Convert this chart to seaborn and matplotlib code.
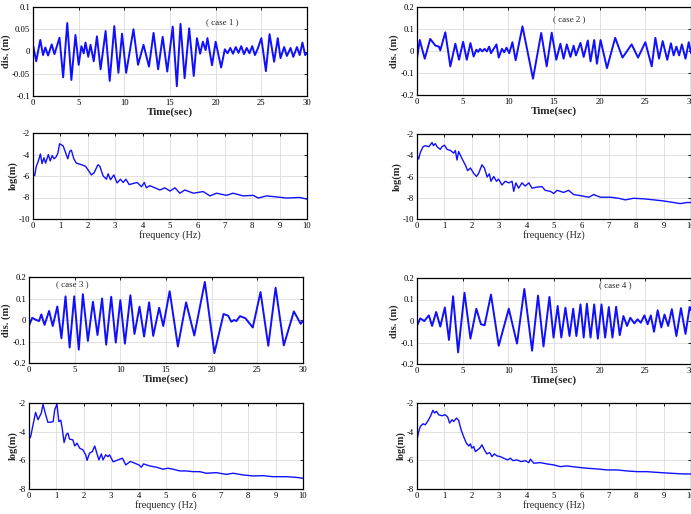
import matplotlib
matplotlib.use("Agg")
import matplotlib.pyplot as plt
import seaborn as sns
import numpy as np

# ---------------- data ----------------
# case 1 displacement: time (s), dis (m)
c1_t = [0.0, 0.35, 0.8, 1.1, 1.35, 1.65, 2.05, 2.35, 2.9, 3.3, 3.75, 4.2, 4.65, 5.0, 5.3, 5.55,
        5.75, 6.05, 6.3, 6.65, 7.0, 7.4, 7.95, 8.4, 8.9, 9.35, 9.75, 10.2, 11.0, 11.5, 12.1, 12.7,
        13.2, 13.7, 14.2, 14.7, 15.3, 15.75, 16.15, 16.6, 17.1, 17.6, 17.95, 18.3, 18.6, 18.9,
        19.1, 19.6, 20.0, 20.6, 21.0, 21.3, 21.6, 21.9, 22.2, 22.5, 22.8, 23.1, 23.4, 23.7, 24.0,
        24.3, 24.6, 25.0, 25.5, 25.9, 26.4, 26.8, 27.1, 27.5, 27.8, 28.2, 28.5, 28.9, 29.2, 29.5,
        29.8, 30.0]
c1_v = [0.015, -0.022, 0.026, -0.008, 0.009, -0.009, 0.016, -0.006, 0.031, -0.058, 0.064, -0.064,
        0.037, -0.030, 0.012, -0.004, 0.020, -0.012, 0.015, -0.022, 0.034, -0.040, 0.046, -0.066,
        0.057, -0.048, 0.040, -0.048, 0.050, -0.030, 0.015, -0.034, 0.042, -0.040, 0.033, -0.045,
        0.056, -0.078, 0.062, -0.060, 0.052, -0.055, 0.030, -0.005, 0.022, 0.003, 0.030, -0.031,
        0.022, -0.036, 0.005, -0.004, 0.008, -0.005, 0.010, -0.003, 0.012, -0.006, 0.008, -0.004,
        0.012, -0.008, 0.006, 0.030, -0.044, 0.039, -0.023, 0.030, -0.015, 0.010, -0.010, 0.008,
        -0.012, 0.010, -0.008, 0.020, -0.008, -0.003]

# case 2
c2_t = [0.0, 0.3, 0.85, 1.45, 2.0, 2.4, 2.55, 3.1, 3.65, 4.2, 4.6, 5.05, 5.45, 5.85, 6.2, 6.5,
        6.7, 6.9, 7.15, 7.4, 7.65, 7.9, 8.1, 8.7, 8.95, 9.3, 9.55, 9.8, 10.1, 10.45, 10.8, 11.55,
        12.7, 13.6, 14.2, 14.75, 15.25, 15.7, 16.05, 16.4, 16.8, 17.15, 17.4, 17.9, 18.25, 18.7,
        19.0, 19.4, 19.7, 20.1, 20.8, 21.7, 22.5, 23.5, 24.2, 25.0, 25.7, 26.1, 26.5, 26.9, 27.4,
        27.8, 28.1, 28.4, 28.7, 29.0, 29.4, 29.75, 30.0]
c2_v = [-0.035, 0.050, -0.035, 0.055, 0.025, 0.020, 0.003, 0.085, -0.070, 0.033, -0.040, 0.042,
        -0.040, 0.036, -0.025, 0.006, -0.004, 0.010, -0.002, 0.010, -0.002, 0.020, -0.010, 0.030,
        -0.030, 0.010, -0.006, 0.015, -0.010, 0.040, -0.042, 0.112, -0.126, 0.082, -0.070, 0.083,
        -0.040, 0.033, -0.035, 0.030, -0.027, 0.024, -0.020, 0.037, -0.027, 0.048, -0.047, 0.050,
        -0.058, 0.050, -0.078, 0.060, -0.030, 0.030, -0.030, 0.040, -0.070, 0.060, -0.035, 0.045,
        -0.040, 0.035, -0.020, 0.020, -0.020, 0.030, -0.035, 0.040, -0.010]

# case 3
c3_t = [0.0, 0.35, 0.8, 1.1, 1.35, 1.7, 2.2, 2.6, 3.1, 3.55, 4.0, 4.45, 4.95, 5.45, 5.9, 6.45,
        7.0, 7.5, 8.0, 8.45, 9.0, 9.5, 10.0, 10.5, 11.1, 11.55, 12.1, 12.6, 13.15, 13.6, 14.25,
        14.7, 15.4, 16.3, 17.2, 18.1, 19.25, 20.3, 21.3, 21.8, 22.15, 22.45, 22.7, 23.1, 23.7,
        24.5, 25.35, 26.2, 27.0, 27.9, 29.0, 29.75, 30.0]
c3_v = [-0.026, 0.010, 0.000, -0.005, 0.026, -0.023, 0.042, -0.028, 0.063, -0.085, 0.110, -0.128,
        0.110, -0.138, 0.120, -0.097, 0.085, -0.070, 0.100, -0.115, 0.108, -0.105, 0.092, -0.110,
        0.115, -0.065, 0.062, -0.077, 0.082, -0.074, 0.057, -0.028, 0.134, -0.123, 0.082, -0.072,
        0.177, -0.154, 0.028, 0.020, -0.008, 0.000, -0.005, 0.018, 0.008, -0.035, 0.130, -0.120,
        0.150, -0.118, 0.040, -0.018, -0.003]

# case 4
c4_t = [0.0, 0.35, 0.8, 1.3, 1.65, 2.1, 2.55, 3.05, 3.5, 3.95, 4.5, 5.2, 5.85, 6.5, 7.0, 7.4,
        8.1, 8.95, 10.05, 10.95, 11.75, 12.6, 13.25, 13.85, 14.5, 14.95, 15.4, 15.8, 16.25, 16.7,
        17.1, 17.45, 17.9, 18.25, 18.6, 19.0, 19.4, 19.8, 20.2, 20.6, 21.0, 21.4, 21.8, 22.2,
        22.6, 23.0, 23.35, 23.8, 24.15, 24.5, 24.9, 25.25, 25.6, 25.95, 26.35, 26.75, 27.1, 27.5,
        27.9, 28.4, 28.9, 29.4, 29.85, 30.0]
c4_v = [-0.023, 0.012, 0.000, 0.026, -0.023, 0.042, -0.026, 0.063, -0.088, 0.115, -0.146, 0.131,
        -0.082, 0.057, -0.015, -0.020, 0.123, -0.115, 0.057, -0.105, 0.149, -0.138, 0.118, -0.118,
        0.112, -0.077, 0.070, -0.077, 0.062, -0.070, 0.057, -0.070, 0.077, -0.077, 0.080, -0.077,
        0.077, -0.082, 0.077, -0.077, 0.065, -0.077, 0.066, -0.066, 0.023, -0.023, 0.015, -0.011,
        0.008, -0.008, 0.026, -0.015, 0.026, -0.050, 0.050, -0.030, 0.030, -0.023, 0.055, -0.070,
        0.060, -0.060, 0.065, 0.050]

# spectra: frequency (Hz), log(m)
s1_f = [0, 0.06, 0.12, 0.18, 0.27, 0.33, 0.4, 0.46, 0.56, 0.63, 0.7, 0.77, 0.85, 0.91, 0.97, 1.1,
        1.2, 1.27, 1.34, 1.4, 1.49, 1.58, 1.77, 1.92, 2.0, 2.13, 2.23, 2.37, 2.44, 2.56, 2.68, 2.74,
        2.83, 2.95, 3.07, 3.19, 3.29, 3.39, 3.51, 3.65, 3.8, 3.96, 4.06, 4.14, 4.26, 4.45, 4.63,
        4.81, 5.0, 5.18, 5.36, 5.54, 5.85, 6.21, 6.46, 6.7, 7.06, 7.3, 7.67, 8.04, 8.22, 8.53, 8.9,
        9.26, 9.74, 10.0]
s1_v = [-5.72, -5.97, -5.1, -4.73, -3.95, -4.85, -4.3, -4.8, -4.0, -4.6, -4.1, -4.4, -4.2, -3.85,
        -3.0, -3.2, -3.9, -4.4, -3.7, -3.6, -4.4, -4.8, -4.95, -5.1, -5.4, -5.9, -5.7, -4.95, -5.1,
        -6.0, -6.3, -5.8, -6.35, -5.9, -6.65, -6.3, -6.6, -6.3, -6.8, -6.7, -6.6, -7.0, -6.6, -7.1,
        -6.9, -7.1, -7.3, -7.1, -7.4, -7.1, -7.6, -7.3, -7.6, -7.45, -7.85, -7.6, -7.8, -7.6,
        -7.85, -7.8, -8.05, -7.85, -7.95, -8.05, -8.0, -8.15]

s2_f = [0, 0.06, 0.12, 0.22, 0.3, 0.43, 0.55, 0.6, 0.67, 0.73, 0.85, 0.91, 1.0, 1.1, 1.22, 1.34,
        1.4, 1.46, 1.52, 1.64, 1.76, 1.85, 1.95, 2.07, 2.17, 2.25, 2.37, 2.46, 2.56, 2.64, 2.7,
        2.8, 2.9, 2.98, 3.1, 3.22, 3.35, 3.47, 3.53, 3.61, 3.71, 3.83, 3.95, 4.08, 4.2, 4.38,
        4.56, 4.68, 4.87, 4.99, 5.11, 5.35, 5.53, 5.72, 5.96, 6.27, 6.45, 6.69, 7.06, 7.36, 7.6,
        7.9, 8.27, 8.64, 9.0, 9.37, 9.61, 9.85, 10.0]
s2_v = [-4.0, -4.35, -3.75, -3.2, -3.1, -3.2, -2.8, -3.1, -2.9, -3.2, -3.45, -3.2, -3.05, -3.45,
        -3.55, -3.8, -3.55, -4.45, -3.65, -4.3, -4.9, -5.45, -5.2, -5.7, -6.0, -5.7, -4.9, -5.2,
        -6.05, -5.75, -6.45, -6.0, -6.45, -6.25, -6.8, -6.45, -6.6, -6.45, -7.4, -6.6, -7.1, -6.6,
        -6.9, -6.6, -7.1, -7.0, -6.95, -7.3, -7.4, -7.6, -7.3, -7.5, -7.3, -7.7, -7.8, -7.95, -7.7,
        -7.95, -7.95, -8.05, -8.2, -8.05, -8.1, -8.2, -8.3, -8.45, -8.55, -8.45, -8.45]

s3_f = [0, 0.06, 0.15, 0.24, 0.33, 0.39, 0.45, 0.51, 0.61, 0.69, 0.82, 0.88, 0.94, 1.02, 1.09,
        1.16, 1.22, 1.28, 1.36, 1.42, 1.48, 1.6, 1.67, 1.75, 1.85, 1.97, 2.07, 2.12, 2.21, 2.31,
        2.4, 2.46, 2.55, 2.64, 2.7, 2.8, 2.88, 2.94, 3.07, 3.25, 3.41, 3.53, 3.7, 3.86, 4.01, 4.1,
        4.18, 4.4, 4.65, 4.89, 5.07, 5.26, 5.5, 5.74, 5.99, 6.23, 6.47, 6.84, 7.2, 7.45, 7.81,
        8.18, 8.54, 8.9, 9.39, 9.76, 10.0]
s3_v = [-4.52, -4.35, -3.5, -2.65, -3.17, -2.93, -2.7, -2.1, -2.82, -3.35, -3.33, -3.3, -2.47,
        -2.07, -3.3, -3.2, -3.87, -4.76, -4.2, -4.1, -4.52, -4.57, -5.0, -4.8, -5.15, -5.27, -5.62,
        -6.0, -5.5, -5.39, -5.0, -5.39, -5.97, -5.55, -5.97, -5.62, -5.74, -5.62, -6.1, -5.97,
        -5.85, -6.32, -6.08, -6.2, -6.32, -6.48, -6.25, -6.39, -6.48, -6.62, -6.55, -6.62, -6.74,
        -6.74, -6.79, -6.79, -6.9, -6.86, -6.98, -6.9, -7.02, -7.09, -7.07, -7.14, -7.14, -7.19,
        -7.25]

s4_f = [0, 0.06, 0.12, 0.22, 0.3, 0.39, 0.49, 0.58, 0.64, 0.71, 0.79, 0.91, 1.03, 1.12, 1.19,
        1.28, 1.34, 1.44, 1.52, 1.61, 1.7, 1.8, 1.89, 1.95, 2.0, 2.07, 2.13, 2.21, 2.29, 2.37,
        2.46, 2.55, 2.65, 2.74, 2.82, 2.92, 3.04, 3.16, 3.31, 3.41, 3.5, 3.65, 3.8, 3.95, 4.08,
        4.14, 4.26, 4.5, 4.74, 4.99, 5.23, 5.47, 5.84, 6.2, 6.57, 6.93, 7.3, 7.66, 8.03, 8.39,
        8.76, 9.25, 9.73, 10.0]
s4_v = [-4.57, -4.0, -3.64, -3.45, -3.52, -3.28, -2.93, -2.51, -2.7, -2.58, -2.82, -2.89, -2.82,
        -2.98, -3.4, -3.17, -3.29, -3.05, -3.21, -3.87, -4.34, -4.8, -5.0, -4.85, -5.15, -5.04,
        -5.39, -5.27, -5.15, -4.92, -5.27, -5.55, -5.46, -5.74, -5.55, -5.69, -5.74, -5.85, -5.97,
        -5.85, -6.02, -5.97, -6.09, -6.02, -6.16, -5.92, -6.2, -6.16, -6.25, -6.32, -6.44, -6.39,
        -6.48, -6.55, -6.6, -6.67, -6.67, -6.74, -6.79, -6.79, -6.84, -6.9, -6.95, -6.95]

case_labels = ["( case 1 )", "( case 2 )", "( case 3 )", "( case 4 )"]
case_label_pos = [(20.7, 0.066), (16.7, 0.144), (4.7, 0.166), (21.7, 0.166)]

disp_ticks_1 = [-0.1, -0.05, 0, 0.05, 0.1]
disp_ticklabels_1 = ["-0.1", "-0.05", "0", "0.05", "0.1"]
disp_ticks_2 = [-0.2, -0.1, 0, 0.1, 0.2]
disp_ticklabels_2 = ["-0.2", "-0.1", "0", "0.1", "0.2"]
time_ticks = [0, 5, 10, 15, 20, 25, 30]
freq_ticks = list(range(0, 11))
log_ticks_a = [-10, -8, -6, -4, -2]
log_ticks_b = [-8, -6, -4, -2]

# ---------------- figure ----------------
sns.set_theme(style="white")
plt.rcParams["font.family"] = ["Liberation Serif", "DejaVu Serif"]
plt.rcParams["axes.unicode_minus"] = False

W, H = 691, 514
fig = plt.figure(figsize=(W / 100, H / 100), dpi=100)


def add_ax(left, top, right, bottom):
    return fig.add_axes([left / W, 1 - bottom / H, (right - left) / W, (bottom - top) / H])


def style(ax, xticks, yticks, yticklabels, xlim, ylim, xlabel, ylabel, xl_size, xl_weight):
    ax.set_xlim(*xlim)
    ax.set_ylim(*ylim)
    ax.set_xticks(xticks)
    ax.set_xticklabels([str(t) for t in xticks])
    ax.set_yticks(yticks)
    ax.set_yticklabels(yticklabels)
    ax.grid(True, color="#dcdcdc", lw=0.6, ls="-")
    ax.set_axisbelow(True)
    ax.tick_params(direction="in", top=True, right=True, length=2.5, width=0.6,
                   labelsize=6.2, pad=2, colors="black")
    for sp in ax.spines.values():
        sp.set_color("black")
        sp.set_linewidth(0.9)
    ax.set_xlabel(xlabel, fontsize=xl_size, fontweight=xl_weight, labelpad=0.5)
    ax.set_ylabel(ylabel, fontsize=7.5, fontweight="bold", labelpad=1)


blue = "#1010ff"

# time-history panels
time_axes = [
    (add_ax(33, 7, 307, 96), c1_t, c1_v, (-0.1, 0.1), disp_ticks_1, disp_ticklabels_1),
    (add_ax(417, 7, 691, 95), c2_t, c2_v, (-0.2, 0.2), disp_ticks_2, disp_ticklabels_2),
    (add_ax(29, 277, 303, 363), c3_t, c3_v, (-0.2, 0.2), disp_ticks_2, disp_ticklabels_2),
    (add_ax(417, 278, 691, 364), c4_t, c4_v, (-0.2, 0.2), disp_ticks_2, disp_ticklabels_2),
]
for i, (ax, t, v, ylim, yt, ytl) in enumerate(time_axes):
    sns.lineplot(x=t, y=v, ax=ax, color=blue, lw=1.4, estimator=None)
    style(ax, time_ticks, yt, ytl, (0, 30), ylim, "Time(sec)", "dis. (m)", 8, "bold")
    x, y = case_label_pos[i]
    ax.text(x, y, case_labels[i], fontsize=6.5, ha="center", va="center")

# spectrum panels
spec_axes = [
    (add_ax(33, 133, 307, 219), s1_f, s1_v, (-10, -2), log_ticks_a),
    (add_ax(417, 134, 691, 219), s2_f, s2_v, (-10, -2), log_ticks_a),
    (add_ax(29, 403, 303, 489), s3_f, s3_v, (-8, -2), log_ticks_b),
    (add_ax(417, 403, 691, 489), s4_f, s4_v, (-8, -2), log_ticks_b),
]
for ax, f, v, ylim, yt in spec_axes:
    sns.lineplot(x=f, y=v, ax=ax, color=blue, lw=1.0, estimator=None)
    style(ax, freq_ticks, yt, [str(t) for t in yt], (0, 10), ylim, "frequency (Hz)", "log(m)",
          7.3, "normal")

fig.savefig("out.png", dpi=100)
